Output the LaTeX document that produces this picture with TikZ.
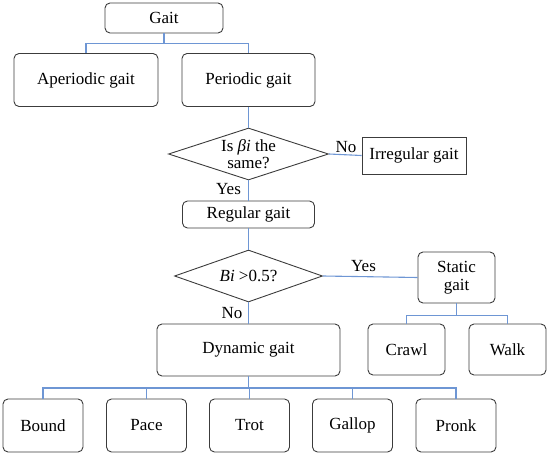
\documentclass[tikz,border=0pt]{standalone}
\usepackage{fontspec}
\setmainfont{Liberation Serif}
\usetikzlibrary{shapes.geometric}
\definecolor{linkblue}{RGB}{110,150,212}
\definecolor{boxgray}{RGB}{60,60,60}
\begin{document}
\begin{tikzpicture}[x=1pt,y=-1pt,
    font=\fontsize{17}{17.5}\selectfont,
    box/.style={draw=boxgray,line width=0.9pt,rounded corners=5pt,inner sep=0pt,align=center},
    sqbox/.style={draw=boxgray,line width=0.9pt,inner sep=0pt,align=center},
    dia/.style={draw=boxgray,line width=0.9pt,diamond,inner sep=0pt},
    link/.style={draw=linkblue,line width=1.1pt}]
            \useasboundingbox (0,0) rectangle (550,455);
            % top level
            \node [box,minimum width=118,minimum height=30] (gait) at (164,18) {Gait};
            \node [box,minimum width=144,minimum height=53] (aper) at (86,80) {Aperiodic gait};
            \node [box,minimum width=133,minimum height=53] (peri) at (248.5,80) {Periodic gait};
            % first question
            \node [dia,minimum width=160,minimum height=52] (qbeta) at (248.5,154) {};
            \path (qbeta.center) node [align=center] (qbetatxt) {Is \textit{βi} the\\same?};
            \node [sqbox,minimum width=104,minimum height=37] (irreg) at (414,155.5) {Irregular gait};
            \node [box,minimum width=132,minimum height=27] (reg) at (248.5,214.5) {Regular gait};
            % second question
            \node [dia,minimum width=148,minimum height=52] (qbi) at (248.5,276) {};
            \path (qbi.center) node (qbitxt) {\textit{Bi} >0.5?};
            \node [box,minimum width=77,minimum height=51] (static) at (456.5,277.5) {Static\\gait};
            \node [box,minimum width=183,minimum height=52] (dyn) at (248.5,350) {Dynamic gait};
            \node [box,minimum width=77,minimum height=51] (crawl) at (406.5,349.5) {Crawl};
            \node [box,minimum width=77,minimum height=51] (walk) at (507.5,349.5) {Walk};
            % dynamic gaits
            \node [box,minimum width=80,minimum height=53] (bound) at (43,425.5) {Bound};
            \node [box,minimum width=80,minimum height=53] (pace) at (146.5,425.5) {Pace};
            \node [box,minimum width=80,minimum height=53] (trot) at (249.5,425.5) {Trot};
            \node [box,minimum width=80,minimum height=53] (gallop) at (352.5,425.5) {Gallop};
            \node [box,minimum width=80,minimum height=53] (pronk) at (456,425.5) {Pronk};
            % connectors
            \foreach \n in {aper,peri}
                \draw [link] (gait.south) -- ++(0,10) -| (\n.north);
            \draw [link] (peri.south) -- (qbeta.north);
            \draw [link] (qbeta.east) -- (irreg.west);
            \draw [link] (qbeta.south) -- (reg.north);
            \draw [link] (reg.south) -- (qbi.north);
            \draw [link] (qbi.east) -- (static.west);
            \draw [link] (qbi.south) -- (dyn.north);
            \foreach \n in {crawl,walk}
                \draw [link] (static.south) -- ++(0,12) -| (\n.north);
            \foreach \n in {bound,pace,trot,gallop,pronk}
                \draw [link] (dyn.south) -- ++(0,11.5) -| (\n.north);
            % answers
            \path (346,147) node (nobeta) {No};
            \path (228.5,189) node (yesbeta) {Yes};
            \path (363.5,266) node (yesbi) {Yes};
            \path (232,313) node (nobi) {No};
        \end{tikzpicture}
\end{document}
